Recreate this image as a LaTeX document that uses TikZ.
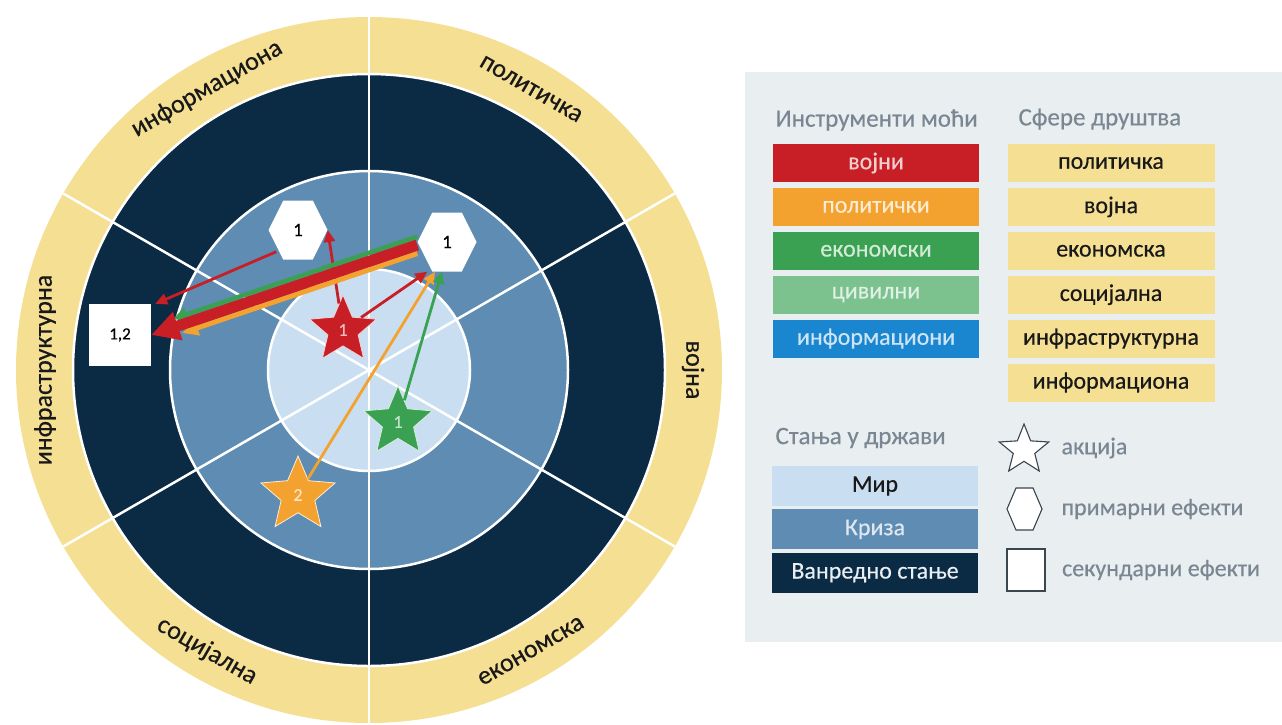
\documentclass[tikz,border=0pt]{standalone}
\usepackage{fontspec}
\setmainfont{Carlito}[FakeBold=0.4]
\usetikzlibrary{arrows.meta, shapes.geometric, positioning, calc}

\definecolor{sferazuta}{HTML}{F4DF93}
\definecolor{vanredno}{HTML}{0B2A43}
\definecolor{kriza}{HTML}{5E8CB3}
\definecolor{mir}{HTML}{C9DFF1}
\definecolor{panelsiva}{HTML}{E9EEF1}
\definecolor{naslovsiva}{HTML}{7A8792}
\definecolor{vojnicrv}{HTML}{C81E26}
\definecolor{politnar}{HTML}{F4A22F}
\definecolor{ekonzel}{HTML}{3AA152}
\definecolor{civilzel}{HTML}{7BC28F}
\definecolor{infoplav}{HTML}{1B86D0}
\definecolor{ikona}{HTML}{3A4650}

% sestougao unutar pravougaonog cvora
\newcommand{\hexoblik}{%
  (path picture bounding box.west)
  -- ($(path picture bounding box.north west)!.25!(path picture bounding box.north east)$)
  -- ($(path picture bounding box.north west)!.75!(path picture bounding box.north east)$)
  -- (path picture bounding box.east)
  -- ($(path picture bounding box.south west)!.75!(path picture bounding box.south east)$)
  -- ($(path picture bounding box.south west)!.25!(path picture bounding box.south east)$)
  -- cycle}

\tikzset{
  linija/.style={white, line width=2.5pt},
  sferanatpis/.style={text=black!90, font=\fontsize{26}{28}\selectfont, inner sep=0pt},
  instbox/.style={fill=#1, text=white!78!#1, minimum width=206pt, minimum height=38pt, inner sep=0pt},
  sferabox/.style={fill=sferazuta, text=black!90, minimum width=207pt, minimum height=38pt, inner sep=0pt},
  stanjebox/.style={fill=#1, minimum width=206pt, minimum height=40pt, inner sep=0pt},
  legnaslov/.style={text=naslovsiva, anchor=west, font=\fontsize{25}{28}\selectfont},
  legtekst/.style={text=naslovsiva},
  hexnode/.style={minimum width=59pt, minimum height=59pt, inner sep=0pt, font=\fontsize{19}{19}\selectfont,
    path picture={\fill[white] \hexoblik;}},
  sqnode/.style={fill=white, minimum size=62pt, inner sep=0pt, font=\fontsize{17}{17}\selectfont},
  zvezda/.style={star, star points=5, star point ratio=2.2, minimum size=70pt, inner sep=0pt,
    fill=#1, draw=white!80!#1, line width=0.8pt, text=white!70!#1, font=\fontsize{18}{18}\selectfont},
  strelica/.style={draw=#1, line width=2.8pt, -{Triangle[length=12pt,width=11pt]}}
}

\begin{document}
\begin{tikzpicture}[x=1pt, y=-1pt, every node/.style={font=\fontsize{24}{28}\selectfont}]
  \useasboundingbox (0,0) rectangle (1282,724);

  % krug: sfere i stanja
  \coordinate (C) at (369,370);
  \fill[sferazuta] (C) circle[radius=353pt];
  \fill[vanredno] (C) circle[radius=296pt];
  \fill[kriza] (C) circle[radius=199pt];
  \fill[mir] (C) circle[radius=101pt];
  \draw[linija] (C) circle[radius=296pt] (C) circle[radius=199pt] (C) circle[radius=101pt];
  \draw[linija] (369,17) -- (369,723);
  \foreach \ug in {30,150,210,330}
    \draw[linija] (C) -- ++(\ug:353pt);

  \node[sferanatpis, rotate=30] (rInfo) at (207,89) {информациона};
  \node[sferanatpis, rotate=-30] (rPol) at (531,89) {политичка};
  \node[sferanatpis, rotate=-90] (rVoj) at (693,370) {војна};
  \node[sferanatpis, rotate=30] (rEkon) at (531,651) {економска};
  \node[sferanatpis, rotate=-30] (rSoc) at (207,651) {социјална};
  \node[sferanatpis, rotate=90] (rInfra) at (45,370) {инфраструктурна};

  % efekti i akcije
  \node[hexnode] (hexA) at (298,230) {1};
  \node[hexnode] (hexB) at (447,242) {1};
  \node[sqnode] (sq) at (120,335) {1,2};
  \node[zvezda=vojnicrv] (zvV) at (343,330) {1};
  \node[zvezda=ekonzel, minimum size=72pt] (zvE) at (398,422) {1};
  \node[zvezda=politnar, minimum size=78pt] (zvP) at (298,495) {2};

  \draw[strelica=vojnicrv] ([xshift=8pt,yshift=8pt]hexA.south west) -- ([xshift=4pt]sq.north east);
  \draw[strelica=vojnicrv] (zvV) -- (hexA.east);
  \draw[strelica=vojnicrv] (zvV) -- ([xshift=10pt]hexB.south west);
  \draw[strelica=politnar] (zvP) -- ([xshift=-12pt]hexB.south);
  \draw[strelica=ekonzel] (zvE) -- ([xshift=-5pt]hexB.south);

  \draw[strelica=politnar, line width=5pt, -{Triangle[length=16pt,width=15pt]}]
    ([yshift=-11.5pt]hexB.west) -- ([xshift=31pt,yshift=2pt]sq.east);
  \draw[strelica=ekonzel, line width=4.5pt, -{Triangle[length=14pt,width=14pt]}]
    ([yshift=5.5pt]hexB.west) -- ([xshift=22pt,yshift=16pt]sq.east);
  \draw[vojnicrv, line width=11pt, -{Triangle[length=28pt,width=28pt]}] ([yshift=-3pt]hexB.west) -- (sq.east);

  % legenda
  \fill[panelsiva] (745,72) rectangle (1282,642);

  \node[legnaslov] (tInst) at (772,120) {Инструменти моћи};
  \node[legnaslov] (tSfere) at (1015,119) {Сфере друштва};

  \node[instbox=vojnicrv] (iVoj) at (876,163) {војни};
  \node[instbox=politnar, below=5.5pt of iVoj] (iPol) {политички};
  \node[instbox=ekonzel, below=5.5pt of iPol] (iEkon) {економски};
  \node[instbox=civilzel, below=5.5pt of iEkon] (iCiv) {цивилни};
  \node[instbox=infoplav, below=5.5pt of iCiv] (iInfo) {информациони};

  \node[sferabox] (sPol) at (1111,163) {политичка};
  \node[sferabox, below=5.5pt of sPol] (sVoj) {војна};
  \node[sferabox, below=5.5pt of sVoj] (sEkon) {економска};
  \node[sferabox, below=5.5pt of sEkon] (sSoc) {социјална};
  \node[sferabox, below=5.5pt of sSoc] (sInfra) {инфраструктурна};
  \node[sferabox, below=5.5pt of sInfra] (sInfo) {информациона};

  \node[legnaslov] (tStanja) at (772,438) {Стања у држави};
  \node[stanjebox=mir, text=black!90] (stMir) at (875,486) {Мир};
  \node[stanjebox=kriza, text=white!80!kriza, below=3pt of stMir] (stKriza) {Криза};
  \node[stanjebox=vanredno, text=white!85!kriza, below=3pt of stKriza] (stVan) {Ванредно стање};

  \node[star, star points=5, star point ratio=2.3, minimum size=52pt, inner sep=0pt,
    fill=white, draw=ikona, line width=1.1pt] (lAkc) at (1024,450) {};
  \draw[ikona, fill=white, line width=1.1pt] (1007,509) -- (1016,488) -- (1033,488)
    -- (1042,509) -- (1033,530) -- (1016,530) -- cycle;
  \coordinate (lPrim) at (1042,509);
  \node[draw=ikona, fill=white, line width=1.1pt, minimum width=38pt, minimum height=42pt,
    inner sep=0pt] (lSek) at (1026,570) {};

  \node[legtekst, anchor=west] (tAkc) at (1058,448) {акција};
  \node[legtekst, anchor=west] (tPrim) at (1058,509) {примарни ефекти};
  \node[legtekst, right=13pt of lSek] (tSek) {секундарни ефекти};
\end{tikzpicture}
\end{document}
